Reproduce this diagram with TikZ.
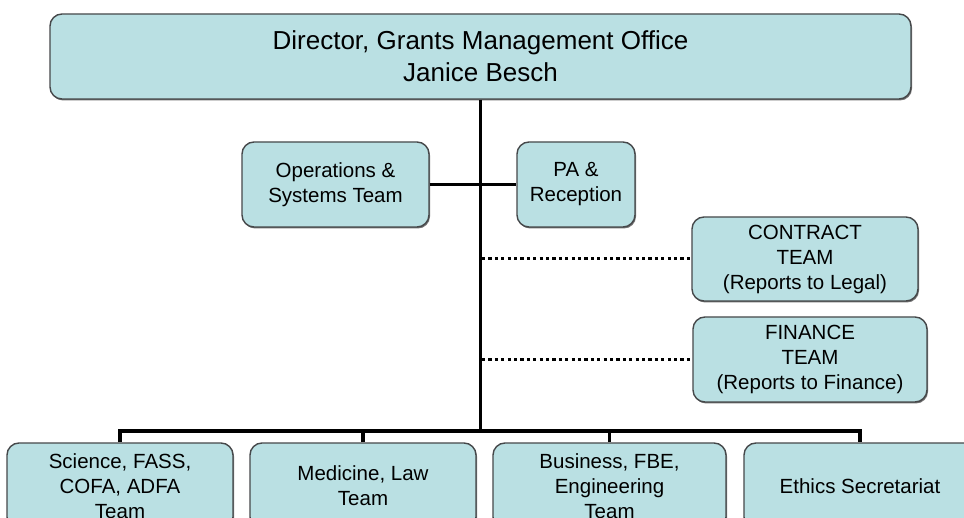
\documentclass[tikz,border=0pt]{standalone}
\usepackage{fontspec}
\setmainfont{Liberation Sans}
\usetikzlibrary{shadows}
\definecolor{boxfill}{RGB}{186,224,227}
\definecolor{boxline}{RGB}{70,72,74}
\tikzset{
  unit/.style={draw=boxline, line width=1.4pt, fill=boxfill, rounded corners=12pt,
    inner sep=0pt, align=center, text=black,
    drop shadow={shadow xshift=1pt, shadow yshift=-1.5pt, fill=black!55, opacity=1},
    font=\fontsize{20.5}{25}\selectfont},
  head/.style={unit, font=\fontsize{26}{32}\selectfont},
  conn/.style={line width=3.8pt, black},
  dotline/.style={line width=3pt, black, dash pattern=on 3.2pt off 3.2pt}
}
\begin{document}
\begin{tikzpicture}[x=1pt, y=-1pt]
  \useasboundingbox (0,0) rectangle (964,518);
  \clip (0,0) rectangle (964,518);
  \fill[white] (0,0) rectangle (964,518);

  % connectors first, so the boxes sit on top of them
  \coordinate (barmid) at (480.5,431);
  \coordinate (c1) at (482,259);
  \coordinate (c2) at (482,359.5);

  % boxes
  \node[head, minimum width=861pt, minimum height=85pt] (top) at (480.5,56.5)
    {Director, Grants Management Office\\Janice Besch};
  \node[unit, minimum width=187pt, minimum height=85pt] (ops) at (335.5,184.5)
    {Operations \&\\Systems Team};
  \node[unit, minimum width=118pt, minimum height=85pt] (pa) at (576,184.5)
    {PA \&\\Reception};
  \node[unit, minimum width=226pt, minimum height=84pt] (contract) at (805,259)
    {CONTRACT\\TEAM\\(Reports to Legal)};
  \node[unit, minimum width=234pt, minimum height=85pt] (finance) at (810,359.5)
    {FINANCE\\TEAM\\(Reports to Finance)};
  \node[unit, minimum width=226pt, minimum height=86pt] (science) at (120,486)
    {Science, FASS,\\COFA, ADFA\\Team};
  \node[unit, minimum width=226pt, minimum height=86pt] (medicine) at (363,486)
    {Medicine, Law\\Team};
  \node[unit, minimum width=233pt, minimum height=86pt] (business) at (609.5,486)
    {Business, FBE,\\Engineering\\Team};
  \node[unit, minimum width=232pt, minimum height=86pt] (ethics) at (860,486)
    {Ethics Secretariat};

  % reporting lines
  \draw[conn] (top.south) -- (barmid);
  \draw[conn] (ops.east) -- (pa.west);
  \draw[dotline] (c1) -- (contract.west);
  \draw[dotline] (c2) -- (finance.west);
  \draw[conn] (science.north) |- (barmid) -| (ethics.north);
  \draw[conn] (medicine.north) -- (medicine.north |- barmid);
  \draw[conn] (business.north) -- (business.north |- barmid);
\end{tikzpicture}
\end{document}
